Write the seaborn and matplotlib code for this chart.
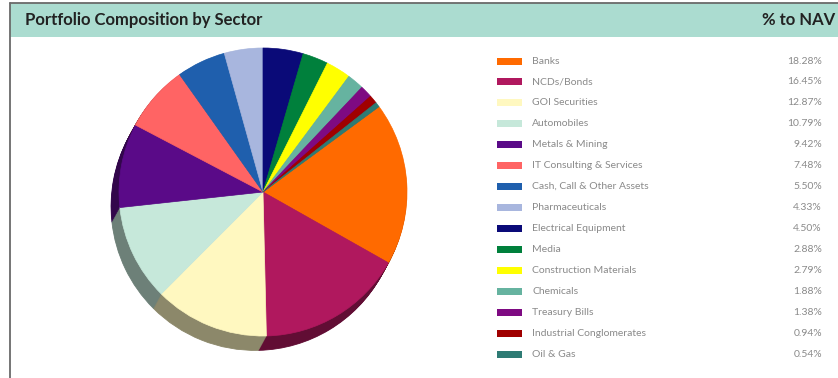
import matplotlib
matplotlib.use("Agg")
import matplotlib.pyplot as plt
from matplotlib.patches import Rectangle
from matplotlib.colors import to_rgb
import seaborn as sns

# Sector weights (% to NAV)
sectors = [
    "Banks", "NCDs/Bonds", "GOI Securities", "Automobiles", "Metals & Mining",
    "IT Consulting & Services", "Cash, Call & Other Assets", "Pharmaceuticals",
    "Electrical Equipment", "Media", "Construction Materials", "Chemicals",
    "Treasury Bills", "Industrial Conglomerates", "Oil & Gas",
]
weights = [18.28, 16.45, 12.87, 10.79, 9.42, 7.48, 5.50, 4.33,
           4.50, 2.88, 2.79, 1.88, 1.38, 0.94, 0.54]
colors = ["#ff6a00", "#b0185e", "#fff8c0", "#c6e8da", "#5a0a88",
          "#ff6464", "#1f5fad", "#a8b6de", "#0a0a78", "#00803c",
          "#ffff00", "#66b3a0", "#7e0a82", "#a00000", "#2e7b74"]

title = "Portfolio Composition by Sector"
value_header = "% to NAV"

sns.set_theme(style="white")
plt.rcParams["font.family"] = ["Lato", "DejaVu Sans"]

W, H = 838, 378
fig = plt.figure(figsize=(W / 100, H / 100), dpi=100)
fig.patch.set_facecolor("white")

# ---- frame and header band (pixel coordinates) ----
bg = fig.add_axes([0, 0, 1, 1])
bg.set_xlim(0, W)
bg.set_ylim(H, 0)
bg.axis("off")
bg.add_patch(Rectangle((10, 3), W - 10, 34, facecolor="#abdcd0",
                       edgecolor="none", zorder=1))
bg.plot([10, W], [3, 3], color="#6a6a6a", lw=1.3, zorder=2)
bg.plot([10, 10], [3, H], color="#6a6a6a", lw=1.3, zorder=2)
bg.text(25, 20, title, fontsize=12, fontweight="bold", color="#222222",
        va="center", ha="left")
bg.text(835, 20, value_header, fontsize=12, fontweight="bold",
        color="#222222", va="center", ha="right")

# ---- pie with a shallow extruded edge ----
cx, cy, R = 263, 192, 144
pad = 1.25
pie_ax = fig.add_axes([(cx - pad * R) / W, 1 - (cy + pad * R) / H,
                       2 * pad * R / W, 2 * pad * R / H])
pie_ax.axis("off")

start = 90 - 360 * sum(weights[8:]) / sum(weights)
depth_dx, depth_dy = -0.055, -0.10
dark = [tuple(c * 0.55 for c in to_rgb(col)) for col in colors]
layers = 14
for k in range(layers, 0, -1):
    t = k / layers
    side, _ = pie_ax.pie(weights, colors=dark, startangle=start,
                         counterclock=False,
                         center=(depth_dx * t, depth_dy * t), radius=1.0)
    for w, col in zip(side, dark):
        w.set_edgecolor(col)
        w.set_linewidth(0.6)
wedges, _ = pie_ax.pie(weights, colors=colors, startangle=start,
                       counterclock=False, center=(0, 0), radius=1.0)
for w, col in zip(wedges, colors):
    w.set_edgecolor(col)
    w.set_linewidth(0.5)
pie_ax.set_aspect("equal")
pie_ax.set_xlim(-pad, pad)
pie_ax.set_ylim(-pad, pad)

# ---- legend table with values ----
y0, step = 61, 20.93
for i, (name, val, col) in enumerate(zip(sectors, weights, colors)):
    y = y0 + i * step
    bg.add_patch(Rectangle((497, y - 3.5), 25, 7, facecolor=col,
                           edgecolor="none", zorder=3))
    bg.text(532, y, name, fontsize=7.5, color="#8a8a8a", va="center",
            ha="left")
    bg.text(822, y, f"{val:.2f}%", fontsize=7.5, color="#8a8a8a",
            va="center", ha="right")

fig.savefig("out.png", dpi=100, facecolor="white")
